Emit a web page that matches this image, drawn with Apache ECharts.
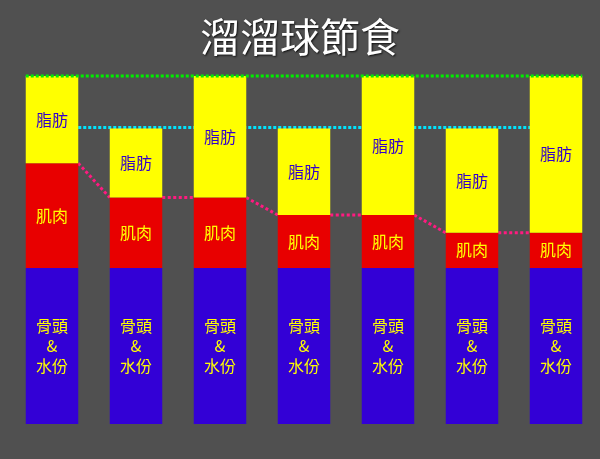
<!DOCTYPE html>
<html>
<head>
<meta charset="utf-8">
<script src="https://cdn.jsdelivr.net/npm/echarts@6/dist/echarts.min.js"></script>
<style>
html,body{margin:0;padding:0;background:#505050;}
#c{width:600px;height:459px;}
</style>
</head>
<body>
<div id="c"></div>
<script>
const categories = ['1', '2', '3', '4', '5', '6', '7'];
const bone   = [39, 39, 39, 39, 39, 39, 39];
const muscle = [26.2, 17.6, 17.6, 13.25, 13.25, 8.8, 8.8];
const fat    = [21.8, 17.3, 30.4, 21.65, 34.75, 26.1, 39.2];
const boneLabel = '骨頭\n&\n水份';
const muscleLabel = '肌肉';
const fatLabel = '脂肪';
const titleText = '溜溜球節食';

const FONT = '"Noto Sans CJK TC", "Noto Sans CJK SC", sans-serif';
const BAR_FRAC = 0.625;

const totals = categories.map((_, i) => bone[i] + muscle[i] + fat[i]);
const muscleTop = categories.map((_, i) => bone[i] + muscle[i]);
const highTotal = Math.max(...totals);
const lowTotal = totals[1];

const pinkData = [];
for (let i = 0; i < categories.length - 1; i++) pinkData.push([i, muscleTop[i], muscleTop[i + 1]]);

function segItem(params, api, x1off, x2off, color, dash, lw, v1, v2, c1, c2) {
  const p1 = api.coord([c1, v1]);
  const p2 = api.coord([c2, v2]);
  const hw = api.size([1, 0])[0] * BAR_FRAC / 2;
  return {
    type: 'line',
    shape: { x1: p1[0] + x1off * hw, y1: p1[1], x2: p2[0] + x2off * hw, y2: p2[1] },
    style: { stroke: color, lineWidth: lw, lineDash: dash }
  };
}

const chart = echarts.init(document.getElementById('c'));
const barCommon = { type: 'bar', stack: 'a', barWidth: (BAR_FRAC * 100) + '%', z: 3 };
chart.setOption({
  backgroundColor: '#505050',
  animation: false,
  title: {
    text: titleText, left: 'center', top: 12,
    textStyle: { color: '#ffffff', fontSize: 40, fontWeight: 'normal', fontFamily: FONT,
      textShadowColor: 'rgba(0,0,0,0.8)', textShadowBlur: 2, textShadowOffsetX: 1, textShadowOffsetY: 1 }
  },
  grid: { left: 10, right: 2, top: 76, bottom: 35 },
  xAxis: { type: 'category', data: categories, show: false },
  yAxis: { type: 'value', min: 0, max: highTotal, show: false },
  series: [
    Object.assign({}, barCommon, {
      name: 'bone', data: bone, itemStyle: { color: '#3300d6' },
      label: { show: true, position: 'inside', formatter: boneLabel, color: '#ffff00',
        fontSize: 16, lineHeight: 20, fontFamily: FONT }
    }),
    Object.assign({}, barCommon, {
      name: 'muscle', data: muscle, itemStyle: { color: '#e80000' },
      label: { show: true, position: 'inside', formatter: muscleLabel, color: '#ffff00',
        fontSize: 16, fontFamily: FONT }
    }),
    Object.assign({}, barCommon, {
      name: 'fat', data: fat, itemStyle: { color: '#ffff00' },
      label: { show: true, position: 'inside', formatter: fatLabel, color: '#3300cc',
        fontSize: 16, fontFamily: FONT }
    }),
    {
      type: 'custom', z: 1, data: pinkData,
      renderItem: (params, api) => segItem(params, api, 1, -1, '#ff1a80', [3, 2.5], 3,
        api.value(1), api.value(2), api.value(0), api.value(0) + 1)
    },
    {
      type: 'custom', z: 1, data: [[0, lowTotal]],
      renderItem: (params, api) => segItem(params, api, 1, 1, '#00e5ff', [3, 2], 3,
        api.value(1) + 0.2, api.value(1) + 0.2, 0, categories.length - 1)
    },
    {
      type: 'custom', z: 5, data: [[0, highTotal]],
      renderItem: (params, api) => segItem(params, api, -1, 1, '#00ee00', [3, 2], 3,
        api.value(1), api.value(1), 0, categories.length - 1)
    }
  ]
});
</script>
</body>
</html>
